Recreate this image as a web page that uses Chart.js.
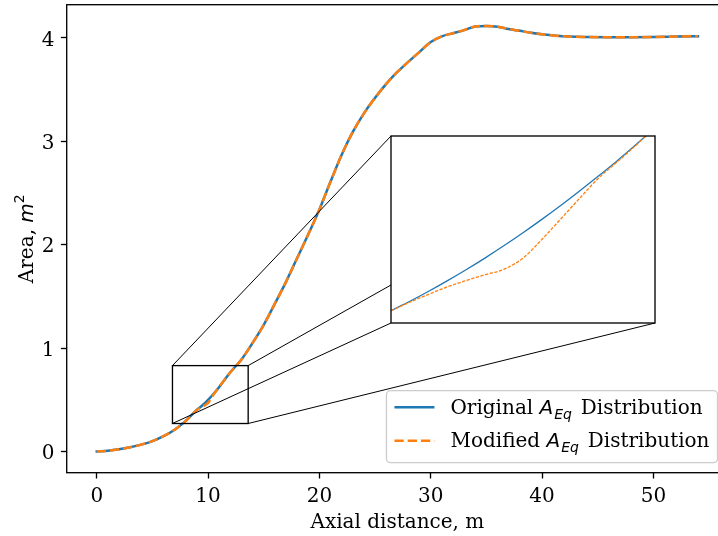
<!DOCTYPE html>
<html>
<head>
<meta charset="utf-8">
<script src="https://cdn.jsdelivr.net/npm/chart.js@4/dist/chart.umd.min.js"></script>
<style>
  html, body { margin: 0; padding: 0; background: #fff; overflow: hidden; }
  #frame { position: relative; width: 718px; height: 536px; overflow: hidden; background: #fff; }
  #mainWrap { position: absolute; left: 0; top: 0; width: 740px; height: 536px; }
  #insetWrap { position: absolute; }
  canvas { display: block; }
</style>
</head>
<body>
<div id="frame">
  <div id="mainWrap"><canvas id="main" width="740" height="536"></canvas></div>
  <div id="insetWrap"><canvas id="inset"></canvas></div>
</div>
<script>
// ---- data ----
const axialDistance = [0, 1, 2, 3, 4, 5, 6, 7, 8, 9, 9.5, 10, 10.5, 11, 12, 13, 14, 15, 16, 17, 18, 19, 20,
  21, 22, 23, 24, 25, 26, 27, 28, 29, 30, 31, 32, 33, 34, 35, 36, 37, 38, 39, 40, 41, 42, 43, 44, 46, 48, 50, 52, 54];
const originalArea = [0, 0.006, 0.02, 0.04, 0.066, 0.10, 0.148, 0.21, 0.295, 0.403, 0.447, 0.499, 0.558, 0.624,
  0.765, 0.89, 1.05, 1.225, 1.43, 1.64, 1.87, 2.10, 2.34, 2.61, 2.87, 3.09, 3.27, 3.42, 3.555, 3.67, 3.77, 3.865,
  3.96, 4.015, 4.045, 4.075, 4.11, 4.115, 4.108, 4.085, 4.068, 4.05, 4.035, 4.024, 4.015, 4.01, 4.008, 4.006,
  4.006, 4.008, 4.012, 4.016];
const modifiedArea = [0, 0.006, 0.02, 0.04, 0.066, 0.10, 0.148, 0.21, 0.295, 0.402, 0.4335, 0.469, 0.552, 0.624,
  0.765, 0.89, 1.05, 1.225, 1.43, 1.64, 1.87, 2.10, 2.34, 2.61, 2.87, 3.09, 3.27, 3.42, 3.555, 3.67, 3.77, 3.865,
  3.96, 4.015, 4.045, 4.075, 4.11, 4.115, 4.108, 4.085, 4.068, 4.05, 4.035, 4.024, 4.015, 4.01, 4.008, 4.006,
  4.006, 4.008, 4.012, 4.016];

// finer sampling of the zoomed section
const insetDistance = [8.90, 9.05, 9.20, 9.35, 9.50, 9.65, 9.80, 9.95, 10.10, 10.25, 10.40, 10.55, 10.70, 10.85, 10.927];
const insetOriginal = [0.3954, 0.4073, 0.4199, 0.4332, 0.4472, 0.4619, 0.4773, 0.4934, 0.5102, 0.5276, 0.5458,
  0.5646, 0.5840, 0.6043, 0.615];
const insetModified = [0.3954, 0.4062, 0.4161, 0.4256, 0.4335, 0.4408, 0.4476, 0.4616, 0.4850, 0.5107, 0.5366,
  0.5620, 0.5825, 0.6035, 0.615];

const xTicks = [0, 10, 20, 30, 40, 50];
const yTicks = [0, 1, 2, 3, 4];
const zoomBoxX = [6.8, 13.6];
const zoomBoxY = [0.27, 0.83];
const insetRangeX = [8.9, 11.0];
const insetRangeY = [0.38, 0.615];
const seriesNames = ['Original', 'Modified'];

// ---- styling ----
const BLUE = '#1f77b4', ORANGE = '#ff7f0e';
const SERIF = "'DejaVu Serif', 'Liberation Serif', serif";
const SANS = "'DejaVu Sans', sans-serif";
const FS = 20;
const INSET_FRAC = [0.491, 0.319, 0.399, 0.401]; // left, bottom, width, height in axes fraction

Chart.defaults.font.family = SERIF;
Chart.defaults.font.size = FS;
Chart.defaults.color = '#000';

function padRange(vals) {
  const lo = Math.min(...vals), hi = Math.max(...vals), m = 0.05 * (hi - lo);
  return [lo - m, hi + m];
}
const [xMin, xMax] = padRange(axialDistance);
const [yMin, yMax] = padRange(originalArea.concat(modifiedArea));
const toPoints = (xs, ys) => xs.map((x, i) => ({ x: x, y: ys[i] }));

function insetBox(ca) {
  const w = ca.right - ca.left, h = ca.bottom - ca.top;
  const left = Math.round(ca.left + INSET_FRAC[0] * w);
  const right = Math.round(ca.left + (INSET_FRAC[0] + INSET_FRAC[2]) * w);
  const bottom = Math.round(ca.bottom - INSET_FRAC[1] * h);
  const top = Math.round(ca.bottom - (INSET_FRAC[1] + INSET_FRAC[3]) * h);
  return { left, right, top, bottom };
}

function drawRich(ctx, segs, x, y) {
  let cx = x;
  for (const s of segs) {
    ctx.font = s.font;
    ctx.fillText(s.text, cx, y + (s.dy || 0));
    cx += ctx.measureText(s.text).width + (s.gap || 0);
  }
  return cx - x;
}
function richWidth(ctx, segs) {
  let w = 0;
  for (const s of segs) { ctx.font = s.font; w += ctx.measureText(s.text).width + (s.gap || 0); }
  return w;
}
function legendSegments(name) {
  return [
    { text: name + ' ', font: FS + 'px ' + SERIF },
    { text: 'A', font: 'italic ' + FS + 'px ' + SANS, gap: 1 },
    { text: 'Eq', font: 'italic ' + Math.round(FS * 0.7) + 'px ' + SANS, dy: 4.5, gap: 2.5 },
    { text: ' Distribution', font: FS + 'px ' + SERIF }
  ];
}

// axes frame, zoom rectangle and connector lines
const overlayPlugin = {
  id: 'overlay',
  afterDatasetsDraw(chart) {
    const ctx = chart.ctx, ca = chart.chartArea;
    const xs = chart.scales.x, ys = chart.scales.y;
    ctx.save();
    ctx.strokeStyle = '#000';
    ctx.lineWidth = 1.33;
    ctx.strokeRect(ca.left, ca.top, ca.right - ca.left, ca.bottom - ca.top);

    const rx0 = xs.getPixelForValue(zoomBoxX[0]), rx1 = xs.getPixelForValue(zoomBoxX[1]);
    const ry0 = ys.getPixelForValue(zoomBoxY[1]), ry1 = ys.getPixelForValue(zoomBoxY[0]);
    const ib = insetBox(ca);
    ctx.lineWidth = 1;
    ctx.beginPath();
    ctx.moveTo(rx0, ry0); ctx.lineTo(ib.left, ib.top);
    ctx.moveTo(rx1, ry0); ctx.lineTo(ib.right, ib.top);
    ctx.moveTo(rx0, ry1); ctx.lineTo(ib.left, ib.bottom);
    ctx.moveTo(rx1, ry1); ctx.lineTo(ib.right, ib.bottom);
    ctx.stroke();
    ctx.lineWidth = 1.33;
    ctx.strokeRect(rx0, ry0, rx1 - rx0, ry1 - ry0);
    ctx.restore();
  },
  afterDraw(chart) {
    const ctx = chart.ctx, ca = chart.chartArea;
    ctx.save();
    ctx.fillStyle = '#000';
    ctx.textBaseline = 'alphabetic';
    ctx.textAlign = 'left';

    // x axis title
    ctx.font = FS + 'px ' + SERIF;
    const xt = 'Axial distance, m';
    const xtw = ctx.measureText(xt).width;
    ctx.fillText(xt, (ca.left + ca.right) / 2 - xtw / 2, 528);

    // y axis title
    const ySegs = [
      { text: 'Area, ', font: FS + 'px ' + SERIF },
      { text: 'm', font: 'italic ' + FS + 'px ' + SANS },
      { text: '2', font: Math.round(FS * 0.7) + 'px ' + SANS, dy: -9 }
    ];
    const yw = richWidth(ctx, ySegs);
    ctx.save();
    ctx.translate(32.5, (ca.top + ca.bottom) / 2);
    ctx.rotate(-Math.PI / 2);
    drawRich(ctx, ySegs, -yw / 2, 0);
    ctx.restore();

    // legend
    const dsList = chart.data.datasets;
    const rows = dsList.map((ds, i) => legendSegments(seriesNames[i]));
    const textW = Math.max(...rows.map(r => richWidth(ctx, r)));
    const lw = 8 + 40 + 16 + textW + 8, lh = 72;
    const lr = ca.right - 10.5, lb = ca.bottom - 10;
    const ll = lr - lw, lt = lb - lh;
    ctx.beginPath();
    ctx.roundRect(ll, lt, lw, lh, 4);
    ctx.fillStyle = 'rgba(255,255,255,0.8)';
    ctx.fill();
    ctx.strokeStyle = '#cccccc';
    ctx.lineWidth = 1.33;
    ctx.stroke();
    dsList.forEach((ds, i) => {
      const cy = lt + 16.6 + 33.4 * i;
      ctx.save();
      ctx.strokeStyle = ds.borderColor;
      ctx.lineWidth = ds.borderWidth;
      ctx.setLineDash(ds.borderDash || []);
      ctx.lineCap = 'butt';
      ctx.beginPath();
      ctx.moveTo(ll + 8, cy);
      ctx.lineTo(ll + 48, cy);
      ctx.stroke();
      ctx.restore();
      ctx.fillStyle = '#000';
      drawRich(ctx, rows[i], ll + 64, cy + 6.7);
    });
    ctx.restore();
  }
};

const mainChart = new Chart(document.getElementById('main'), {
  type: 'line',
  data: {
    datasets: [
      { label: seriesNames[0], data: toPoints(axialDistance, originalArea), borderColor: BLUE, borderWidth: 2.5,
        pointRadius: 0, cubicInterpolationMode: 'monotone', fill: false, borderCapStyle: 'square',
        borderJoinStyle: 'round', order: 2 },
      { label: seriesNames[1], data: toPoints(axialDistance, modifiedArea), borderColor: ORANGE, borderWidth: 2.5,
        borderDash: [9.25, 4], pointRadius: 0, cubicInterpolationMode: 'monotone', fill: false,
        borderCapStyle: 'butt', borderJoinStyle: 'round', order: 1 }
    ]
  },
  options: {
    responsive: false, animation: false, devicePixelRatio: 1, events: [],
    layout: { padding: { top: 4.7, right: 12, left: 0, bottom: 0 }, autoPadding: false },
    plugins: { legend: { display: false }, tooltip: { enabled: false } },
    scales: {
      x: {
        type: 'linear', min: xMin, max: xMax,
        afterBuildTicks: s => { s.ticks = xTicks.map(v => ({ value: v })); },
        afterFit: s => { s.height = 63.3; s.paddingLeft = 0; s.paddingRight = 0; s.paddingTop = 0; s.paddingBottom = 0; },
        border: { display: false },
        grid: { drawOnChartArea: false, drawTicks: true, tickLength: 5.8, tickColor: '#000', tickWidth: 1.33, color: '#000' },
        ticks: { padding: 6, color: '#000', maxRotation: 0, autoSkip: false, font: { family: SERIF, size: FS } }
      },
      y: {
        type: 'linear', min: yMin, max: yMax,
        afterBuildTicks: s => { s.ticks = yTicks.map(v => ({ value: v })); },
        afterFit: s => { s.width = 66.7; s.paddingLeft = 0; s.paddingRight = 0; s.paddingTop = 0; s.paddingBottom = 0; },
        border: { display: false },
        grid: { drawOnChartArea: false, drawTicks: true, tickLength: 5.8, tickColor: '#000', tickWidth: 1.33, color: '#000' },
        ticks: { padding: 6.5, color: '#000', autoSkip: false, labelOffset: 2.5, font: { family: SERIF, size: FS } }
      }
    }
  },
  plugins: [overlayPlugin]
});

// ---- zoomed inset ----
const ib = insetBox(mainChart.chartArea);
const M = 2;
const insetWrap = document.getElementById('insetWrap');
const insetCanvas = document.getElementById('inset');
insetWrap.style.left = (ib.left - M) + 'px';
insetWrap.style.top = (ib.top - M) + 'px';
insetCanvas.width = ib.right - ib.left + 2 * M;
insetCanvas.height = ib.bottom - ib.top + 2 * M;

const insetFramePlugin = {
  id: 'insetFrame',
  beforeDraw(chart) {
    const ctx = chart.ctx, ca = chart.chartArea;
    ctx.save();
    ctx.fillStyle = '#fff';
    ctx.fillRect(ca.left, ca.top, ca.right - ca.left, ca.bottom - ca.top);
    ctx.restore();
  },
  afterDraw(chart) {
    const ctx = chart.ctx, ca = chart.chartArea;
    ctx.save();
    ctx.strokeStyle = '#000';
    ctx.lineWidth = 1.33;
    ctx.strokeRect(ca.left, ca.top, ca.right - ca.left, ca.bottom - ca.top);
    ctx.restore();
  }
};

new Chart(insetCanvas, {
  type: 'line',
  data: {
    datasets: [
      { label: seriesNames[0], data: toPoints(insetDistance, insetOriginal), borderColor: BLUE, borderWidth: 1.3,
        pointRadius: 0, cubicInterpolationMode: 'monotone', fill: false, order: 2 },
      { label: seriesNames[1], data: toPoints(insetDistance, insetModified), borderColor: ORANGE, borderWidth: 1.3,
        borderDash: [3.3, 1.5], pointRadius: 0, cubicInterpolationMode: 'monotone', fill: false, order: 1 }
    ]
  },
  options: {
    responsive: false, animation: false, devicePixelRatio: 1, events: [],
    layout: { padding: M, autoPadding: false },
    plugins: { legend: { display: false }, tooltip: { enabled: false } },
    scales: {
      x: { type: 'linear', min: insetRangeX[0], max: insetRangeX[1], display: false },
      y: { type: 'linear', min: insetRangeY[0], max: insetRangeY[1], display: false }
    }
  },
  plugins: [insetFramePlugin]
});
</script>
</body>
</html>
